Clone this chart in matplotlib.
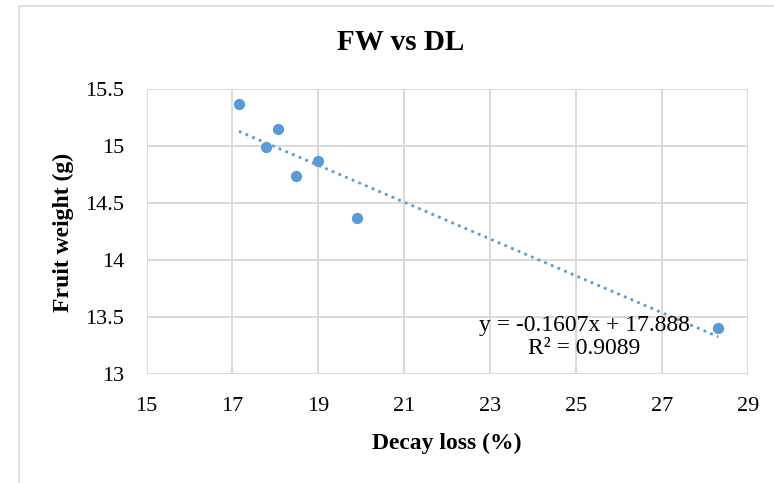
import numpy as np
import matplotlib
matplotlib.use("Agg")
import matplotlib.pyplot as plt
from matplotlib.patches import Rectangle

# values
decay_loss = [17.15, 17.79, 18.06, 18.49, 18.98, 19.90, 28.31]
fruit_weight = [15.37, 14.99, 15.15, 14.74, 14.87, 14.37, 13.41]
x_ticks = [15, 17, 19, 21, 23, 25, 27, 29]
y_ticks = [13, 13.5, 14, 14.5, 15, 15.5]
y_tick_labels = ["13", "13.5", "14", "14.5", "15", "15.5"]
equation = "y = -0.1607x + 17.888\nR² = 0.9089"

blue = "#5B9BD5"
serif = "Liberation Serif"

fig = plt.figure(figsize=(7.74, 4.83), dpi=100)
W, H = 774, 483

# light outer chart frame (only left and top edges fall inside the image)
fig.patches.append(Rectangle((19 / W, -0.05), 1, 1.05 - 6 / H, transform=fig.transFigure,
                             fill=False, edgecolor="#D9D9D9", linewidth=1.2))

ax = fig.add_axes([146.6 / W, 1 - 374.3 / H, (747.8 - 146.6) / W, (374.3 - 89) / H])

ax.scatter(decay_loss, fruit_weight, s=66, color=blue, zorder=3, linewidths=0)

# linear trendline
slope, intercept = np.polyfit(decay_loss, fruit_weight, 1)
xs = np.array([min(decay_loss), max(decay_loss)])
ax.plot(xs, slope * xs + intercept, color=blue, linestyle=(0, (1, 1.6)),
        linewidth=2, zorder=2)

ax.set_xlim(15, 29)
ax.set_ylim(13, 15.5)
ax.set_xticks(x_ticks)
ax.set_yticks(y_ticks)
ax.set_yticklabels(y_tick_labels)
ax.grid(True, color="#D9D9D9", linewidth=1.4)
ax.set_axisbelow(True)
for s in ax.spines.values():
    s.set_visible(False)
ax.tick_params(length=0, labelsize=16, pad=16)
for lab in ax.get_xticklabels() + ax.get_yticklabels():
    lab.set_fontfamily(serif)

ax.text(584 / W, 1 - 337 / H, equation, transform=fig.transFigure,
        ha="center", va="center", fontsize=17, fontfamily=serif,
        linespacing=1.1)

fig.text(401 / W, 1 - 43 / H, "FW vs DL", ha="center", va="center",
         fontsize=21, fontweight="bold", fontfamily=serif)
fig.text(447 / W, 1 - 443 / H, "Decay loss (%)", ha="center", va="center",
         fontsize=17, fontweight="bold", fontfamily=serif)
fig.text(63 / W, 1 - 232 / H, "Fruit weight (g)", ha="center", va="center",
         rotation=90, fontsize=17, fontweight="bold", fontfamily=serif)

fig.savefig("out.png", dpi=100)
